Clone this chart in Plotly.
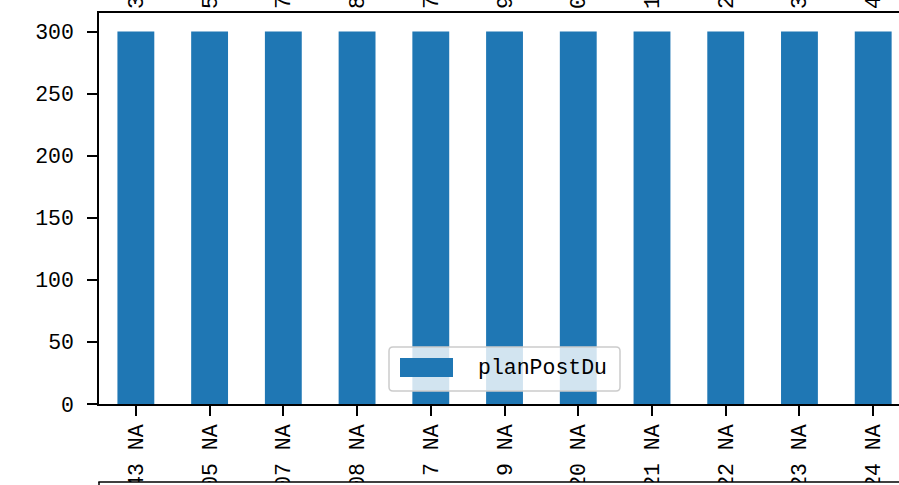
import plotly.graph_objects as go

# ---- data ----
categories = ["43 NA", "05 NA", "07 NA", "08 NA", "\u00a07 NA", "\u00a09 NA",
              "20 NA", "21 NA", "22 NA", "23 NA", "24 NA"]
plan_post_du = [300, 300, 300, 300, 300, 300, 300, 300, 300, 300, 300]
series_name = "planPostDu"
top_fragments = ["3", "5", "7", "8", "7", "9", "0", "1", "2", "3", "4"]
y_ticks = [0, 50, 100, 150, 200, 250, 300]

W, H = 899, 485
ML, MR, MT, MB = 99, 0, 13, 81
PW, PH = W - ML - MR, H - MT - MB
FONT = "Liberation Mono"
FS = 21.5
BLUE = "#1f77b4"

def px_x(p):
    return (p - ML) / PW

def px_y(p):
    return (H - MB - p) / PH

idx = list(range(len(categories)))
fig = go.Figure()
fig.add_trace(go.Bar(x=categories, y=plan_post_du, name=series_name,
                     marker=dict(color=BLUE, line=dict(width=0)),
                     width=0.5, showlegend=False))
fig.add_trace(go.Scatter(x=idx, y=plan_post_du, xaxis="x2", mode="markers",
                         marker=dict(opacity=0), showlegend=False,
                         hoverinfo="skip"))

xr = [-0.5, 10.35]
fig.update_layout(
    width=W, height=H,
    margin=dict(l=ML, r=MR, t=MT, b=MB, autoexpand=False),
    paper_bgcolor="white", plot_bgcolor="white",
    font=dict(family=FONT, size=FS, color="black"),
    xaxis=dict(type="category", range=xr, tickangle=-90,
               showline=True, linecolor="black", linewidth=1.5,
               ticks="outside", ticklen=10, tickwidth=1.5, tickcolor="black",
               showgrid=False, zeroline=False, automargin=False,
               tickfont=dict(family=FONT, size=FS, color="black"),
               ticklabelstandoff=0),
    xaxis2=dict(overlaying="x", side="top", range=xr, tickmode="array",
                tickvals=idx, ticktext=top_fragments, tickangle=-90,
                showline=True, linecolor="black", linewidth=1.5,
                ticks="", showgrid=False, zeroline=False, automargin=False,
                tickfont=dict(family=FONT, size=FS, color="black"),
                ticklabelstandoff=-2),
    yaxis=dict(range=[0, 315], tickmode="array", tickvals=y_ticks,
               showline=True, linecolor="black", linewidth=1.5,
               ticks="outside", ticklen=10, tickwidth=1.5, tickcolor="black",
               showgrid=False, zeroline=False, automargin=False,
               tickfont=dict(family=FONT, size=FS, color="black"),
               ticklabelstandoff=9),
)

shapes = []
# next (lower) axes covering the tails of the tick labels
shapes.append(dict(type="rect", xref="paper", yref="paper", layer="above",
                   x0=-0.01, x1=1.02, y0=px_y(520), y1=px_y(482),
                   fillcolor="white", line=dict(width=0)))
shapes.append(dict(type="line", xref="paper", yref="paper", layer="above",
                   x0=px_x(98.3), x1=1.02, y0=px_y(482), y1=px_y(482),
                   line=dict(color="black", width=1.5)))
shapes.append(dict(type="line", xref="paper", yref="paper", layer="above",
                   x0=px_x(99), x1=px_x(99), y0=px_y(482), y1=px_y(490),
                   line=dict(color="black", width=1.5)))

# legend box with rounded corners
lx0, lx1, ly0, ly1, r = 389, 620, 347, 391, 4
def P(x, y):
    return f"{px_x(x):.5f},{px_y(y):.5f}"
path = (f"M{P(lx0 + r, ly0)} L{P(lx1 - r, ly0)} Q{P(lx1, ly0)} {P(lx1, ly0 + r)} "
        f"L{P(lx1, ly1 - r)} Q{P(lx1, ly1)} {P(lx1 - r, ly1)} "
        f"L{P(lx0 + r, ly1)} Q{P(lx0, ly1)} {P(lx0, ly1 - r)} "
        f"L{P(lx0, ly0 + r)} Q{P(lx0, ly0)} {P(lx0 + r, ly0)} Z")
shapes.append(dict(type="path", xref="paper", yref="paper", layer="above",
                   path=path, fillcolor="rgba(255,255,255,0.8)",
                   line=dict(color="#cccccc", width=1.5)))
shapes.append(dict(type="rect", xref="paper", yref="paper", layer="above",
                   x0=px_x(400), x1=px_x(453), y0=px_y(377), y1=px_y(358),
                   fillcolor=BLUE, line=dict(width=0)))
fig.update_layout(shapes=shapes)
fig.add_annotation(xref="paper", yref="paper", x=px_x(476), y=px_y(368),
                   xanchor="left", yanchor="middle", showarrow=False,
                   text=series_name,
                   font=dict(family=FONT, size=FS, color="black"))

fig.write_html("out.html",
               config={"displayModeBar": False},
               post_script="document.body.style.margin='0';"
                           "document.body.style.overflow='hidden';")
